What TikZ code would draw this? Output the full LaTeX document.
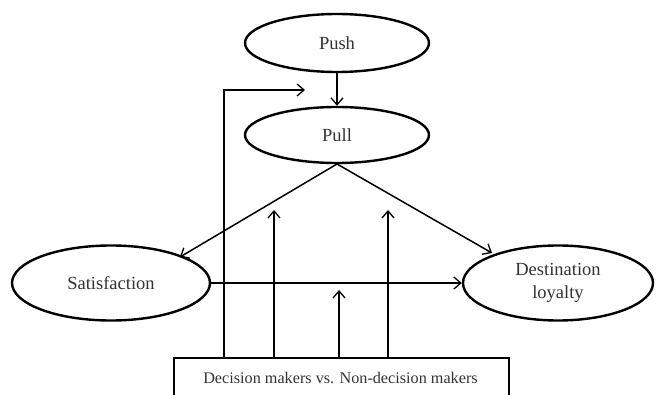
\documentclass[tikz,border=0pt]{standalone}
\usepackage{fontspec}
\setmainfont{Liberation Serif}
\usetikzlibrary{shapes.geometric,arrows.meta}
\begin{document}
\begin{tikzpicture}[x=1pt,y=-1pt,
  oval/.style={ellipse,draw,line width=2.4pt,inner sep=0pt,font=\fontsize{18.5}{23}\selectfont,text=black!80},
  conn/.style={line width=1.5pt,-{Straight Barb[length=7pt,width=12pt,line width=1.3pt]}},
  plain/.style={line width=1.5pt}]
\clip (0,0) rectangle (659,395);
\fill[white] (0,0) rectangle (659,395);
\node[oval,minimum width=184pt,minimum height=58pt] (push) at (337,43) {Push};
\node[oval,minimum width=184pt,minimum height=56pt] (pull) at (337,135) {Pull};
\node[oval,minimum width=198pt,minimum height=75pt] (sat) at (111,283) {Satisfaction};
\node[oval,minimum width=190pt,minimum height=75pt,align=center] (dest) at (558,283) {Destination\\loyalty};
\node[draw,line width=2.4pt,minimum width=335pt,minimum height=60pt,anchor=north west,inner sep=0pt] (box) at (173,357) {};
\node[font=\fontsize{16.2}{19}\selectfont,text=black!80] (boxtext) at (340.5,378) {Decision makers vs. Non-decision makers};
\coordinate (pb) at (337,164);
\coordinate (satend) at (180,257);
\coordinate (destend) at (492,253);
\draw[conn] (push) -- (pull);
\draw[conn] (pb) -- (satend);
\draw[conn] (pb) -- (destend);
\draw[conn] (sat.east) -- (dest.west);
\coordinate (c1) at (224,90);
\coordinate (c1end) at (305,90);
\coordinate (a1) at (274,210);
\coordinate (a2) at (388,210);
\coordinate (a3) at (339,290);
\draw[conn] (box.north -| c1) -- (c1) -- (c1end);
\draw[conn] (box.north -| a1) -- (a1);
\draw[conn] (box.north -| a2) -- (a2);
\draw[conn] (box.north -| a3) -- (a3);
\end{tikzpicture}
\end{document}
